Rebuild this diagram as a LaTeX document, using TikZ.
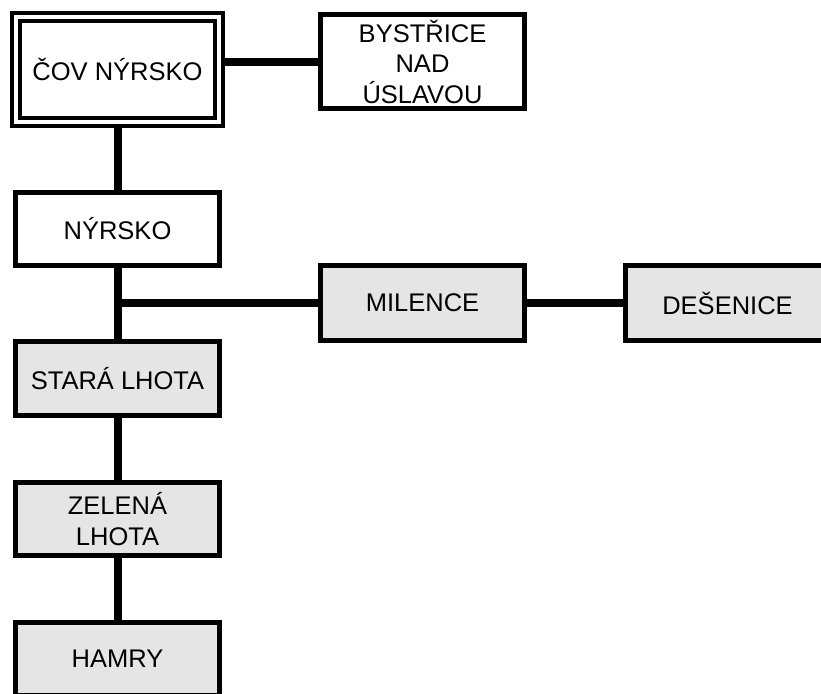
\documentclass[tikz,border=0pt]{standalone}
\usepackage{fontspec}
\setmainfont{Liberation Sans}
\usepackage{xcolor}
\usepackage{tikz}
\usetikzlibrary{positioning}

\begin{document}
\begin{tikzpicture}[x=1pt, y=-1pt,
        place/.style={rectangle, draw, line width=5pt, fill=white, inner sep=1pt, align=center,
            minimum width=204pt, minimum height=73pt, font=\fontsize{25.5}{30.5}\selectfont},
        plant/.style={place, line width=4pt, double, double distance=4pt, minimum width=203pt, minimum height=105pt},
        village/.style={place, fill=gray!20},
        pipe/.style={line width=8pt}]

        \useasboundingbox (0,0) rectangle (821,693);

        % horni rada - cistirna
        \node[plant] (cov) at (117.5,69.5) {ČOV NÝRSKO};
        \node[place, minimum height=93.5pt] (bys) at (422.5,61.7) {BYSTŘICE\\NAD\\ÚSLAVOU};

        % hlavni vetev
        \node[place] (nyr) at (117.5,229) {NÝRSKO};
        \node[village, minimum height=74pt] (sta) at (117.5,378.5) {STARÁ LHOTA};
        \node[village] (zel) at (117.5,519) {ZELENÁ\\LHOTA};
        \node[village] (ham) at (117.5,659) {HAMRY};

        % bocni vetev
        \node[village, minimum height=75pt] (mil) at (422.5,303) {MILENCE};
        \node[village, minimum height=75pt] (des) at (727.5,303) {DEŠENICE};

        % potrubi
        \draw[pipe] (bys.west -| cov.east) -- (bys.west);
        \draw[pipe] (cov.south) -- (nyr.north);
        \draw[pipe] (nyr.south) -- (sta.north);
        \draw[pipe] (nyr.south |- mil.west) -- (mil.west);
        \draw[pipe] (mil.east) -- (des.west);
        \draw[pipe] (sta.south) -- (zel.north);
        \draw[pipe] (zel.south) -- (ham.north);

\end{tikzpicture}
\end{document}
